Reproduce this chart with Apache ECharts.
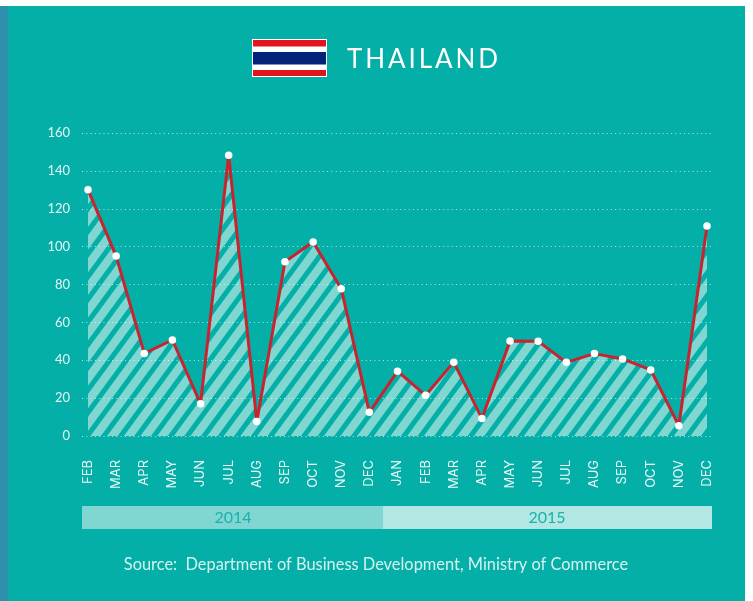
<!DOCTYPE html>
<html>
<head>
<meta charset="utf-8">
<title>Thailand</title>
<script src="https://cdn.jsdelivr.net/npm/echarts@6/dist/echarts.min.js"></script>
<style>
  html, body { margin: 0; padding: 0; background: #ffffff; }
  #chart { position: absolute; left: 0; top: 0; width: 753px; height: 601px; }
  #heading {
    position: absolute; left: 347px; top: 41px; margin: 0;
    font: 400 26px/34px Lato, sans-serif; letter-spacing: 2.9px; color: #ffffff;
  }
</style>
</head>
<body>
<div id="chart"></div>
<h1 id="heading">THAILAND</h1>
<script>
// Monthly values, February 2014 to December 2015
const months = ['FEB','MAR','APR','MAY','JUN','JUL','AUG','SEP','OCT','NOV','DEC',
                'JAN','FEB','MAR','APR','MAY','JUN','JUL','AUG','SEP','OCT','NOV','DEC'];
const values = [130, 95, 43.6, 50.7, 17, 148.2, 7.6, 92, 102.4, 77.8, 12.5,
                34.2, 21.5, 38.9, 9.3, 50.1, 50, 38.9, 43.5, 40.7, 34.9, 5.4, 110.9];
const yearLabels = ['2014', '2015'];
const sourceNote = 'Source:  Department of Business Development, Ministry of Commerce';

const TEAL = '#04afa8', STRIPE = '#80d7d2', PALE = '#b2e7e4', RED = '#c9232f';

// Repeating diagonal hatch used under the line
function hatchTile() {
  const w = 50, h = 68, period = w / 3, band = 10.4;
  const c = document.createElement('canvas');
  c.width = w; c.height = h;
  const ctx = c.getContext('2d');
  ctx.fillStyle = STRIPE;
  const run = w;   // horizontal travel of a stripe across the tile height
  for (let i = -4; i < 4; i++) {
    const x = i * period + 11.1;
    ctx.beginPath();
    ctx.moveTo(x, h);
    ctx.lineTo(x + band, h);
    ctx.lineTo(x + band + run, 0);
    ctx.lineTo(x + run, 0);
    ctx.closePath();
    ctx.fill();
  }
  return c;
}

const rect = (x, y, width, height, fill, z) =>
  ({ type: 'rect', silent: true, z: z, shape: { x, y, width, height }, style: { fill } });
const label = (text, x, y, font, fill) =>
  ({ type: 'text', silent: true, z: 5, x, y,
     style: { text, font, fill, align: 'center', verticalAlign: 'middle' } });

const chart = echarts.init(document.getElementById('chart'), null, { renderer: 'canvas' });
chart.setOption({
  animation: false,
  backgroundColor: '#ffffff',
  graphic: { elements: [
    // page panel and left edge
    rect(8, 6, 737, 595, TEAL, -20),
    rect(0, 6, 8, 595, '#2f90ae', -20),
    // flag
    rect(252, 39, 75, 38, '#ffffff', 4),
    rect(253, 40, 73, 6.5, '#e3141e', 5),
    rect(253, 52, 73, 12.5, '#03237b', 5),
    rect(253, 70, 73, 6, '#e3141e', 5),
    // year bands
    rect(82, 506, 301, 23, STRIPE, 4),
    rect(383, 506, 329, 23, PALE, 4),
    label(yearLabels[0], 233, 518, '16px Lato, sans-serif', '#1bb1ab'),
    label(yearLabels[1], 547, 518, '16px Lato, sans-serif', '#1bb1ab'),
    label(sourceNote, 376, 565, '16.4px Lato, sans-serif', '#d5f2f0')
  ]},
  grid: [
    { left: 88, width: 619, top: 133, height: 303 },
    { left: 82, width: 631, top: 133, height: 303 }
  ],
  xAxis: [
    { type: 'category', gridIndex: 0, data: months, boundaryGap: false,
      axisLine: { show: false }, axisTick: { show: false }, splitLine: { show: false },
      axisLabel: { interval: 0, rotate: 90, margin: 24, fontFamily: 'Inter, sans-serif',
                   fontSize: 13, color: '#ecf9f8' } },
    { type: 'value', gridIndex: 1, min: 0, max: 1, show: false }
  ],
  yAxis: [
    { type: 'value', gridIndex: 0, min: 0, max: 160, interval: 20, show: false },
    { type: 'value', gridIndex: 1, min: 0, max: 160, interval: 20, z: 2,
      axisLine: { show: false }, axisTick: { show: false },
      axisLabel: { margin: 12, fontFamily: 'Lato, sans-serif', fontSize: 13, color: '#e4f7f6' },
      splitLine: { lineStyle: { color: 'rgba(255,255,255,0.7)', width: 1, type: [1, 3.3] } } }
  ],
  series: [
    { type: 'line', xAxisIndex: 0, yAxisIndex: 0, data: values, z: 1, silent: true,
      symbol: 'none', lineStyle: { width: 0 },
      areaStyle: { opacity: 1, color: { image: hatchTile(), repeat: 'repeat' } } },
    { type: 'line', xAxisIndex: 0, yAxisIndex: 0, data: values, z: 3,
      symbol: 'circle', symbolSize: 7.5, showSymbol: true,
      itemStyle: { color: '#ffffff' },
      lineStyle: { color: RED, width: 3 } }
  ]
});
</script>
</body>
</html>
